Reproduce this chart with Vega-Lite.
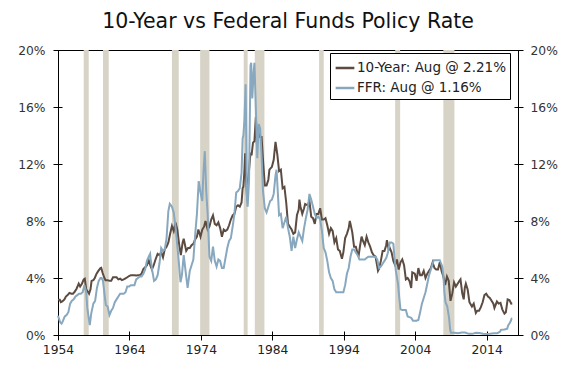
{
  "$schema": "https://vega.github.io/schema/vega-lite/v6.json",
  "width": 460,
  "height": 285,
  "autosize": {"type": "none"},
  "padding": {"left": 58, "top": 50, "right": 68, "bottom": 38},
  "background": "#ffffff",
  "title": {"text": "10-Year vs Federal Funds Policy Rate", "fontSize": 20.5, "font": "DejaVu Sans", "fontWeight": "normal", "color": "#111111", "offset": 12, "anchor": "middle"},
  "config": {
    "view": {"stroke": "#000000", "strokeWidth": 1},
    "axis": {"labelFont": "DejaVu Sans", "labelFontSize": 12.3, "labelColor": "#333333", "tickColor": "#000000", "tickWidth": 1, "tickSize": 9, "domain": false, "grid": false, "offset": -4, "title": null, "labelFlush": false}
  },
  "datasets": {
    "recessions": [
      {"start": 1957.6, "end": 1958.3}, {"start": 1960.3, "end": 1961.1}, {"start": 1969.95, "end": 1970.9},
      {"start": 1973.9, "end": 1975.2}, {"start": 1980.0, "end": 1980.55}, {"start": 1981.55, "end": 1982.9},
      {"start": 1990.55, "end": 1991.2}, {"start": 2001.2, "end": 2001.9}, {"start": 2007.95, "end": 2009.5}
    ],
    "teny": [
      {"t":1954.0,"v":2.48},{"t":1954.25,"v":2.47},{"t":1954.4,"v":2.3},{"t":1954.6,"v":2.35},{"t":1954.9,"v":2.5},
      {"t":1955.1,"v":2.7},{"t":1955.35,"v":2.8},{"t":1955.6,"v":2.95},{"t":1955.9,"v":2.9},
      {"t":1956.1,"v":2.9},{"t":1956.35,"v":3.05},{"t":1956.6,"v":3.25},{"t":1956.9,"v":3.6},
      {"t":1957.1,"v":3.4},{"t":1957.35,"v":3.6},{"t":1957.6,"v":3.9},{"t":1957.75,"v":3.95},{"t":1957.95,"v":3.2},
      {"t":1958.15,"v":3.05},{"t":1958.35,"v":2.9},{"t":1958.55,"v":3.2},{"t":1958.7,"v":3.8},{"t":1958.95,"v":3.85},
      {"t":1959.15,"v":4.0},{"t":1959.4,"v":4.3},{"t":1959.65,"v":4.5},{"t":1959.95,"v":4.7},
      {"t":1960.05,"v":4.72},{"t":1960.25,"v":4.35},{"t":1960.5,"v":4.0},{"t":1960.65,"v":3.85},{"t":1960.95,"v":3.85},
      {"t":1961.2,"v":3.8},{"t":1961.45,"v":3.8},{"t":1961.7,"v":4.05},{"t":1961.95,"v":4.05},
      {"t":1962.2,"v":4.05},{"t":1962.45,"v":3.9},{"t":1962.7,"v":3.95},{"t":1962.95,"v":3.85},
      {"t":1963.2,"v":3.9},{"t":1963.45,"v":3.97},{"t":1963.7,"v":4.05},{"t":1963.95,"v":4.14},
      {"t":1964.2,"v":4.2},{"t":1964.45,"v":4.2},{"t":1964.7,"v":4.2},{"t":1964.95,"v":4.18},
      {"t":1965.2,"v":4.2},{"t":1965.45,"v":4.2},{"t":1965.7,"v":4.3},{"t":1965.95,"v":4.62},
      {"t":1966.2,"v":4.75},{"t":1966.45,"v":4.9},{"t":1966.7,"v":5.25},{"t":1966.95,"v":4.84},
      {"t":1967.15,"v":4.6},{"t":1967.4,"v":4.9},{"t":1967.65,"v":5.3},{"t":1967.95,"v":5.7},
      {"t":1968.2,"v":5.6},{"t":1968.45,"v":5.8},{"t":1968.7,"v":5.45},{"t":1968.95,"v":6.03},
      {"t":1969.2,"v":6.2},{"t":1969.45,"v":6.5},{"t":1969.7,"v":7.1},{"t":1969.95,"v":7.65},
      {"t":1970.2,"v":7.3},{"t":1970.45,"v":7.9},{"t":1970.7,"v":7.4},{"t":1970.95,"v":6.4},
      {"t":1971.2,"v":5.6},{"t":1971.45,"v":6.5},{"t":1971.6,"v":6.75},{"t":1971.95,"v":5.9},
      {"t":1972.2,"v":6.1},{"t":1972.45,"v":6.1},{"t":1972.7,"v":6.3},{"t":1972.95,"v":6.4},
      {"t":1973.2,"v":6.7},{"t":1973.45,"v":6.9},{"t":1973.65,"v":7.4},{"t":1973.95,"v":6.9},
      {"t":1974.2,"v":7.4},{"t":1974.45,"v":7.6},{"t":1974.65,"v":8.0},{"t":1974.95,"v":7.4},
      {"t":1975.2,"v":7.6},{"t":1975.45,"v":8.1},{"t":1975.7,"v":8.4},{"t":1975.95,"v":7.8},
      {"t":1976.2,"v":7.7},{"t":1976.45,"v":7.9},{"t":1976.7,"v":7.5},{"t":1976.95,"v":6.9},
      {"t":1977.2,"v":7.4},{"t":1977.45,"v":7.3},{"t":1977.7,"v":7.4},{"t":1977.95,"v":7.7},
      {"t":1978.2,"v":8.1},{"t":1978.45,"v":8.4},{"t":1978.7,"v":8.5},{"t":1978.95,"v":9.0},
      {"t":1979.2,"v":9.1},{"t":1979.45,"v":9.0},{"t":1979.7,"v":9.3},{"t":1979.85,"v":10.3},{"t":1979.95,"v":10.4},
      {"t":1980.1,"v":11.5},{"t":1980.2,"v":12.75},{"t":1980.45,"v":9.8},{"t":1980.7,"v":11.3},{"t":1980.95,"v":12.8},
      {"t":1981.1,"v":12.6},{"t":1981.3,"v":13.5},{"t":1981.5,"v":13.6},{"t":1981.7,"v":15.3},{"t":1981.85,"v":13.4},{"t":1981.95,"v":13.7},
      {"t":1982.1,"v":14.6},{"t":1982.3,"v":13.9},{"t":1982.5,"v":13.9},{"t":1982.7,"v":12.3},{"t":1982.95,"v":10.5},
      {"t":1983.2,"v":10.5},{"t":1983.45,"v":10.9},{"t":1983.6,"v":11.6},{"t":1983.95,"v":11.8},
      {"t":1984.2,"v":12.3},{"t":1984.45,"v":13.56},{"t":1984.7,"v":12.7},{"t":1984.95,"v":11.5},
      {"t":1985.2,"v":11.6},{"t":1985.45,"v":10.3},{"t":1985.7,"v":10.4},{"t":1985.95,"v":9.3},
      {"t":1986.2,"v":7.8},{"t":1986.45,"v":7.6},{"t":1986.7,"v":7.4},{"t":1986.95,"v":7.1},
      {"t":1987.2,"v":7.2},{"t":1987.45,"v":8.4},{"t":1987.7,"v":8.8},{"t":1987.8,"v":9.5},{"t":1987.95,"v":9.0},
      {"t":1988.2,"v":8.5},{"t":1988.45,"v":8.9},{"t":1988.6,"v":9.2},{"t":1988.95,"v":9.1},
      {"t":1989.2,"v":9.4},{"t":1989.45,"v":8.3},{"t":1989.7,"v":8.2},{"t":1989.95,"v":7.8},
      {"t":1990.2,"v":8.5},{"t":1990.45,"v":8.5},{"t":1990.7,"v":8.9},{"t":1990.95,"v":8.1},
      {"t":1991.2,"v":8.1},{"t":1991.45,"v":8.2},{"t":1991.7,"v":7.7},{"t":1991.95,"v":7.1},
      {"t":1992.2,"v":7.5},{"t":1992.45,"v":7.3},{"t":1992.7,"v":6.5},{"t":1992.95,"v":6.8},
      {"t":1993.2,"v":6.0},{"t":1993.45,"v":5.9},{"t":1993.75,"v":5.35},{"t":1993.95,"v":5.8},
      {"t":1994.2,"v":6.8},{"t":1994.45,"v":7.1},{"t":1994.7,"v":7.5},{"t":1994.85,"v":8.0},{"t":1994.95,"v":7.8},
      {"t":1995.2,"v":7.2},{"t":1995.45,"v":6.2},{"t":1995.7,"v":6.2},{"t":1995.95,"v":5.7},
      {"t":1996.1,"v":5.6},{"t":1996.3,"v":6.3},{"t":1996.5,"v":6.9},{"t":1996.7,"v":6.6},{"t":1996.95,"v":6.3},
      {"t":1997.2,"v":6.9},{"t":1997.45,"v":6.5},{"t":1997.7,"v":6.2},{"t":1997.95,"v":5.8},
      {"t":1998.2,"v":5.6},{"t":1998.45,"v":5.5},{"t":1998.7,"v":4.8},{"t":1998.8,"v":4.5},{"t":1998.95,"v":4.65},
      {"t":1999.2,"v":5.2},{"t":1999.45,"v":5.9},{"t":1999.7,"v":5.9},{"t":1999.95,"v":6.3},
      {"t":2000.05,"v":6.66},{"t":2000.3,"v":6.0},{"t":2000.45,"v":6.1},{"t":2000.7,"v":5.8},{"t":2000.95,"v":5.2},
      {"t":2001.2,"v":4.9},{"t":2001.45,"v":5.3},{"t":2001.7,"v":4.6},{"t":2001.95,"v":5.1},
      {"t":2002.2,"v":5.3},{"t":2002.45,"v":4.9},{"t":2002.7,"v":3.9},{"t":2002.95,"v":4.0},
      {"t":2003.2,"v":3.8},{"t":2003.45,"v":3.3},{"t":2003.6,"v":4.4},{"t":2003.95,"v":4.3},
      {"t":2004.2,"v":3.8},{"t":2004.45,"v":4.7},{"t":2004.7,"v":4.2},{"t":2004.95,"v":4.2},
      {"t":2005.2,"v":4.5},{"t":2005.45,"v":4.0},{"t":2005.7,"v":4.3},{"t":2005.95,"v":4.5},
      {"t":2006.2,"v":4.7},{"t":2006.45,"v":5.1},{"t":2006.7,"v":4.7},{"t":2006.95,"v":4.6},
      {"t":2007.2,"v":4.6},{"t":2007.45,"v":5.1},{"t":2007.7,"v":4.5},{"t":2007.95,"v":4.1},
      {"t":2008.2,"v":3.5},{"t":2008.45,"v":4.1},{"t":2008.7,"v":3.8},{"t":2008.95,"v":2.4},
      {"t":2009.2,"v":2.9},{"t":2009.45,"v":3.7},{"t":2009.7,"v":3.4},{"t":2009.95,"v":3.6},
      {"t":2010.2,"v":3.8},{"t":2010.35,"v":3.9},{"t":2010.6,"v":2.9},{"t":2010.8,"v":2.5},{"t":2010.95,"v":3.3},
      {"t":2011.1,"v":3.6},{"t":2011.35,"v":3.2},{"t":2011.6,"v":2.3},{"t":2011.95,"v":2.0},
      {"t":2012.2,"v":2.2},{"t":2012.5,"v":1.55},{"t":2012.7,"v":1.7},{"t":2012.95,"v":1.7},
      {"t":2013.2,"v":1.95},{"t":2013.45,"v":2.3},{"t":2013.7,"v":2.8},{"t":2013.95,"v":2.9},
      {"t":2014.2,"v":2.7},{"t":2014.45,"v":2.6},{"t":2014.7,"v":2.4},{"t":2014.95,"v":2.2},
      {"t":2015.1,"v":1.9},{"t":2015.45,"v":2.35},{"t":2015.7,"v":2.2},{"t":2015.95,"v":2.25},
      {"t":2016.2,"v":1.8},{"t":2016.5,"v":1.5},{"t":2016.7,"v":1.6},{"t":2016.95,"v":2.5},
      {"t":2017.2,"v":2.45},{"t":2017.45,"v":2.2},{"t":2017.6,"v":2.21}
    ],
    "ffr": [
      {"t":1954.0,"v":1.35},{"t":1954.3,"v":0.9},{"t":1954.5,"v":0.8},{"t":1954.7,"v":1.0},{"t":1954.95,"v":1.3},
      {"t":1955.2,"v":1.4},{"t":1955.45,"v":1.6},{"t":1955.7,"v":2.2},{"t":1955.95,"v":2.4},
      {"t":1956.2,"v":2.5},{"t":1956.45,"v":2.7},{"t":1956.7,"v":2.8},{"t":1956.95,"v":2.9},
      {"t":1957.2,"v":2.9},{"t":1957.45,"v":3.0},{"t":1957.7,"v":3.5},{"t":1957.95,"v":3.0},
      {"t":1958.1,"v":1.9},{"t":1958.3,"v":1.2},{"t":1958.45,"v":0.7},{"t":1958.65,"v":1.5},{"t":1958.95,"v":2.2},
      {"t":1959.2,"v":2.4},{"t":1959.45,"v":3.3},{"t":1959.7,"v":3.8},{"t":1959.95,"v":4.0},
      {"t":1960.1,"v":4.0},{"t":1960.3,"v":3.8},{"t":1960.5,"v":2.9},{"t":1960.7,"v":2.1},{"t":1960.95,"v":2.0},
      {"t":1961.2,"v":1.4},{"t":1961.45,"v":1.7},{"t":1961.7,"v":1.9},{"t":1961.95,"v":2.3},
      {"t":1962.2,"v":2.5},{"t":1962.45,"v":2.7},{"t":1962.7,"v":2.9},{"t":1962.95,"v":2.9},
      {"t":1963.2,"v":2.9},{"t":1963.45,"v":3.0},{"t":1963.7,"v":3.4},{"t":1963.95,"v":3.4},
      {"t":1964.2,"v":3.5},{"t":1964.45,"v":3.5},{"t":1964.7,"v":3.5},{"t":1964.95,"v":3.9},
      {"t":1965.2,"v":4.0},{"t":1965.45,"v":4.1},{"t":1965.7,"v":4.1},{"t":1965.95,"v":4.3},
      {"t":1966.2,"v":4.6},{"t":1966.45,"v":5.2},{"t":1966.7,"v":5.5},{"t":1966.9,"v":5.7},{"t":1966.95,"v":5.4},
      {"t":1967.2,"v":4.5},{"t":1967.45,"v":3.8},{"t":1967.7,"v":3.9},{"t":1967.95,"v":4.2},
      {"t":1968.2,"v":5.0},{"t":1968.45,"v":6.1},{"t":1968.7,"v":5.9},{"t":1968.95,"v":6.0},
      {"t":1969.2,"v":6.8},{"t":1969.45,"v":8.7},{"t":1969.65,"v":9.2},{"t":1969.95,"v":9.0},
      {"t":1970.2,"v":8.6},{"t":1970.45,"v":7.6},{"t":1970.7,"v":6.3},{"t":1970.95,"v":4.9},
      {"t":1971.15,"v":3.7},{"t":1971.35,"v":4.2},{"t":1971.6,"v":5.6},{"t":1971.95,"v":4.1},
      {"t":1972.15,"v":3.3},{"t":1972.45,"v":4.5},{"t":1972.7,"v":4.9},{"t":1972.95,"v":5.3},
      {"t":1973.2,"v":7.0},{"t":1973.45,"v":8.5},{"t":1973.7,"v":10.8},{"t":1973.95,"v":10.0},
      {"t":1974.2,"v":9.4},{"t":1974.35,"v":11.3},{"t":1974.55,"v":12.9},{"t":1974.75,"v":10.1},{"t":1974.95,"v":8.5},
      {"t":1975.2,"v":5.5},{"t":1975.45,"v":5.2},{"t":1975.7,"v":6.2},{"t":1975.95,"v":5.2},
      {"t":1976.2,"v":4.8},{"t":1976.45,"v":5.3},{"t":1976.7,"v":5.2},{"t":1976.95,"v":4.7},
      {"t":1977.2,"v":4.7},{"t":1977.45,"v":5.4},{"t":1977.7,"v":6.1},{"t":1977.95,"v":6.6},
      {"t":1978.2,"v":6.8},{"t":1978.45,"v":7.6},{"t":1978.7,"v":8.5},{"t":1978.95,"v":10.0},
      {"t":1979.2,"v":10.1},{"t":1979.45,"v":10.3},{"t":1979.7,"v":11.4},{"t":1979.85,"v":13.8},{"t":1979.95,"v":14.0},
      {"t":1980.1,"v":15.1},{"t":1980.27,"v":17.6},{"t":1980.45,"v":9.5},{"t":1980.55,"v":9.0},{"t":1980.75,"v":10.9},{"t":1980.95,"v":18.9},
      {"t":1981.05,"v":19.1},{"t":1981.2,"v":16.6},{"t":1981.4,"v":18.5},{"t":1981.5,"v":19.1},{"t":1981.7,"v":15.9},{"t":1981.9,"v":12.4},
      {"t":1982.1,"v":14.8},{"t":1982.3,"v":14.5},{"t":1982.5,"v":12.6},{"t":1982.7,"v":10.1},{"t":1982.95,"v":8.9},
      {"t":1983.2,"v":8.6},{"t":1983.45,"v":9.0},{"t":1983.7,"v":9.4},{"t":1983.95,"v":9.5},
      {"t":1984.2,"v":9.9},{"t":1984.45,"v":11.2},{"t":1984.6,"v":11.6},{"t":1984.95,"v":8.4},
      {"t":1985.2,"v":8.5},{"t":1985.45,"v":7.5},{"t":1985.7,"v":7.9},{"t":1985.95,"v":8.3},
      {"t":1986.2,"v":7.5},{"t":1986.45,"v":6.9},{"t":1986.7,"v":5.9},{"t":1986.95,"v":6.9},
      {"t":1987.2,"v":6.1},{"t":1987.45,"v":6.7},{"t":1987.7,"v":7.2},{"t":1987.95,"v":6.9},
      {"t":1988.2,"v":6.6},{"t":1988.45,"v":7.5},{"t":1988.7,"v":8.2},{"t":1988.95,"v":8.8},
      {"t":1989.2,"v":9.9},{"t":1989.45,"v":9.5},{"t":1989.7,"v":9.0},{"t":1989.95,"v":8.5},
      {"t":1990.2,"v":8.2},{"t":1990.45,"v":8.3},{"t":1990.7,"v":8.1},{"t":1990.95,"v":7.3},
      {"t":1991.2,"v":6.1},{"t":1991.45,"v":5.8},{"t":1991.7,"v":5.2},{"t":1991.95,"v":4.4},
      {"t":1992.2,"v":4.0},{"t":1992.45,"v":3.8},{"t":1992.7,"v":3.2},{"t":1992.95,"v":3.0},
      {"t":1993.2,"v":3.0},{"t":1993.45,"v":3.0},{"t":1993.7,"v":3.0},{"t":1993.95,"v":3.0},
      {"t":1994.2,"v":3.5},{"t":1994.45,"v":4.3},{"t":1994.7,"v":4.7},{"t":1994.95,"v":5.5},
      {"t":1995.2,"v":6.0},{"t":1995.45,"v":6.0},{"t":1995.7,"v":5.8},{"t":1995.95,"v":5.6},
      {"t":1996.2,"v":5.3},{"t":1996.45,"v":5.3},{"t":1996.7,"v":5.3},{"t":1996.95,"v":5.3},
      {"t":1997.2,"v":5.4},{"t":1997.45,"v":5.5},{"t":1997.7,"v":5.5},{"t":1997.95,"v":5.5},
      {"t":1998.2,"v":5.5},{"t":1998.45,"v":5.5},{"t":1998.7,"v":5.3},{"t":1998.95,"v":4.7},
      {"t":1999.2,"v":4.8},{"t":1999.45,"v":5.0},{"t":1999.7,"v":5.2},{"t":1999.95,"v":5.4},
      {"t":2000.2,"v":5.8},{"t":2000.45,"v":6.5},{"t":2000.7,"v":6.5},{"t":2000.95,"v":6.4},
      {"t":2001.1,"v":5.5},{"t":2001.3,"v":4.5},{"t":2001.6,"v":3.6},{"t":2001.8,"v":2.5},{"t":2001.95,"v":1.8},
      {"t":2002.2,"v":1.75},{"t":2002.45,"v":1.75},{"t":2002.7,"v":1.75},{"t":2002.95,"v":1.3},
      {"t":2003.2,"v":1.25},{"t":2003.45,"v":1.2},{"t":2003.7,"v":1.0},{"t":2003.95,"v":1.0},
      {"t":2004.2,"v":1.0},{"t":2004.45,"v":1.05},{"t":2004.7,"v":1.6},{"t":2004.95,"v":2.2},
      {"t":2005.2,"v":2.6},{"t":2005.45,"v":3.0},{"t":2005.7,"v":3.6},{"t":2005.95,"v":4.2},
      {"t":2006.2,"v":4.6},{"t":2006.45,"v":5.0},{"t":2006.6,"v":5.25},{"t":2006.95,"v":5.25},
      {"t":2007.2,"v":5.25},{"t":2007.45,"v":5.25},{"t":2007.65,"v":5.0},{"t":2007.8,"v":4.8},{"t":2007.95,"v":4.2},
      {"t":2008.1,"v":3.0},{"t":2008.25,"v":2.3},{"t":2008.5,"v":2.0},{"t":2008.75,"v":1.2},{"t":2008.9,"v":0.4},{"t":2009.0,"v":0.16},
      {"t":2009.5,"v":0.16},{"t":2010.0,"v":0.12},{"t":2010.5,"v":0.18},{"t":2011.0,"v":0.17},{"t":2011.5,"v":0.08},
      {"t":2012.0,"v":0.08},{"t":2012.5,"v":0.16},{"t":2013.0,"v":0.14},{"t":2013.5,"v":0.09},{"t":2014.0,"v":0.07},
      {"t":2014.5,"v":0.09},{"t":2015.0,"v":0.12},{"t":2015.5,"v":0.13},{"t":2015.9,"v":0.24},{"t":2016.0,"v":0.36},
      {"t":2016.5,"v":0.39},{"t":2016.9,"v":0.45},{"t":2017.0,"v":0.65},{"t":2017.2,"v":0.8},{"t":2017.4,"v":1.0},
      {"t":2017.5,"v":1.15},{"t":2017.6,"v":1.16}
    ]
  },
  "layer": [
    {
      "data": {"name": "recessions"},
      "mark": {"type": "rect", "color": "#d7d3c6", "opacity": 1},
      "encoding": {
        "x": {"field": "start", "type": "quantitative",
              "scale": {"domain": [1954, 2018.4], "nice": false, "zero": false},
              "axis": {"values": [1954,1959,1964,1969,1974,1979,1984,1989,1994,1999,2004,2009,2014], "labelExpr": "(datum.value - 1954) % 10 == 0 ? '' + datum.value : ''", "labelPadding": 3, "labelColor": "#222222"}},
        "x2": {"field": "end"}
      }
    },
    {
      "data": {"name": "teny"},
      "mark": {"type": "line", "strokeWidth": 2, "interpolate": "linear"},
      "encoding": {
        "x": {"field": "t", "type": "quantitative"},
        "y": {"field": "v", "type": "quantitative", "scale": {"domain": [0, 20], "nice": false},
              "axis": {"orient": "left", "values": [0,4,8,12,16,20], "labelExpr": "datum.value + '%'", "labelPadding": 8}},
        "color": {"datum": "10-Year: Aug @ 2.21%",
                  "scale": {"domain": ["10-Year: Aug @ 2.21%", "FFR: Aug @ 1.16%"], "range": ["#5b4b41", "#88a8bf"]},
                  "legend": {"orient": "none", "legendX": 272, "legendY": 3, "title": null, "strokeColor": "#000000", "fillColor": "#ffffff", "padding": 4, "symbolType": "stroke", "symbolSize": 350, "symbolStrokeWidth": 2.5, "labelFont": "DejaVu Sans", "labelFontSize": 13.5, "labelColor": "#222222", "rowPadding": 2, "labelOffset": 1}}
      }
    },
    {
      "data": {"name": "ffr"},
      "mark": {"type": "line", "strokeWidth": 2, "interpolate": "linear"},
      "encoding": {
        "x": {"field": "t", "type": "quantitative"},
        "y": {"field": "v", "type": "quantitative",
              "axis": {"orient": "right", "values": [0,4,8,12,16,20], "labelExpr": "datum.value + '%'", "labelPadding": 7}},
        "color": {"datum": "FFR: Aug @ 1.16%"}
      }
    }
  ],
  "resolve": {"axis": {"y": "independent"}}
}
